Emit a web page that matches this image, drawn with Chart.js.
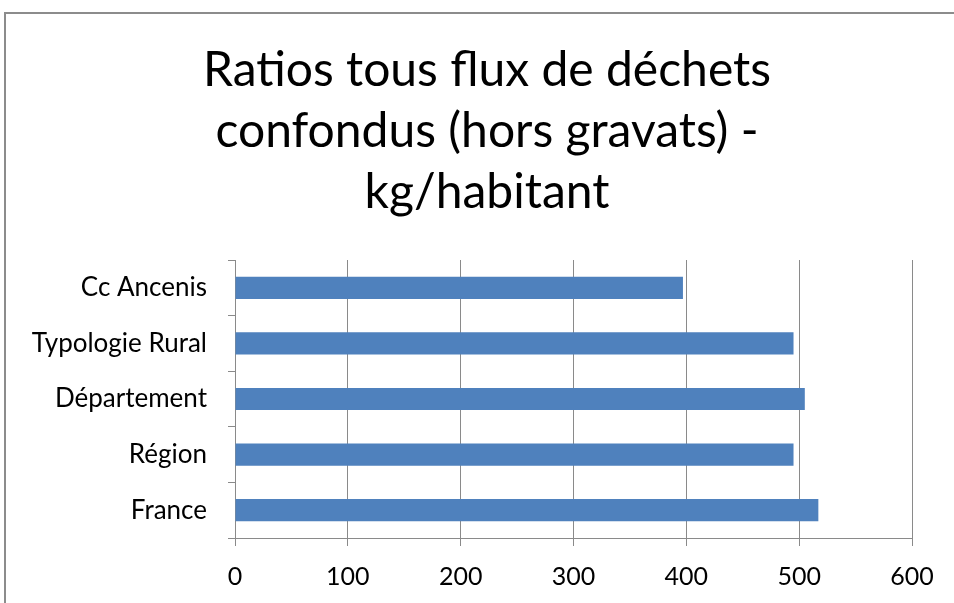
<!DOCTYPE html>
<html><head><meta charset="utf-8">
<script src="https://cdn.jsdelivr.net/npm/chart.js@4"></script>
<style>
html,body{margin:0;padding:0;background:#fff;overflow:hidden;}
#wrap{position:relative;width:954px;height:603px;}
#frame{position:absolute;left:4px;top:12px;width:960px;height:600px;border-left:2px solid #8c8c8c;border-top:2px solid #8c8c8c;pointer-events:none;}
canvas{position:absolute;left:0;top:0;}
</style></head>
<body><div id="wrap"><canvas id="c" width="954" height="603"></canvas><div id="frame"></div></div>
<script>
const categories = ["Cc Ancenis", "Typologie Rural", "Département", "Région", "France"];
const values = [397, 495, 505, 495, 517];
const xTicks = [0, 100, 200, 300, 400, 500, 600];
const titleLines = ["Ratios tous flux de déchets", "confondus (hors gravats) -", "kg/habitant"];

const FONT = "Lato, 'Open Sans', sans-serif";
const GRID = "#8a8a8a";

new Chart(document.getElementById('c'), {
  type: 'bar',
  data: {
    labels: categories,
    datasets: [{
      data: values,
      backgroundColor: '#4F81BD',
      borderWidth: 0,
      barPercentage: 0.4,
      categoryPercentage: 1.0
    }]
  },
  options: {
    indexAxis: 'y',
    responsive: false,
    animation: false,
    layout: { padding: { left: 20, right: 0, top: 0, bottom: 0 } },
    plugins: {
      legend: { display: false },
      tooltip: { enabled: false },
      title: {
        display: true,
        text: titleLines,
        color: '#000',
        font: { family: FONT, size: 48, weight: 'normal', lineHeight: '61px' },
        padding: { top: 40, bottom: 37 }
      }
    },
    scales: {
      x: {
        min: xTicks[0],
        max: xTicks[xTicks.length - 1],
        afterBuildTicks: (s) => { s.ticks = xTicks.map(v => ({ value: v })); },
        afterFit: (s) => { s.height = 65; },
        grid: { color: GRID, lineWidth: 1, tickLength: 8 },
        border: { color: GRID, width: 1 },
        ticks: { color: '#000', padding: 16, font: { family: FONT, size: 25 } }
      },
      y: {
        afterFit: (s) => { s.width = 215; },
        grid: { display: true, drawOnChartArea: false, offset: true, color: GRID, tickLength: 7 },
        border: { color: GRID, width: 1 },
        ticks: { color: '#000', padding: 21, font: { family: FONT, size: 26 } }
      },
      yRightSpace: {
        type: 'linear',
        position: 'right',
        display: true,
        grid: { display: false },
        ticks: { display: false },
        border: { display: false },
        afterFit: (s) => { s.width = 42; }
      }
    }
  }
});
</script>
</body></html>
